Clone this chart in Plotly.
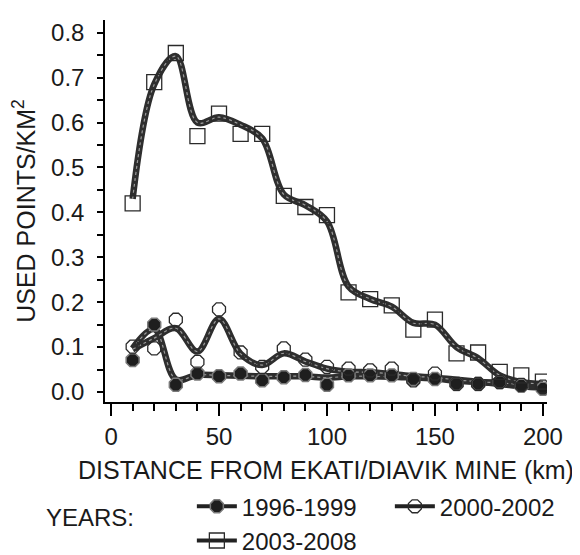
import plotly.graph_objects as go

distance_km = [10, 20, 30, 40, 50, 60, 70, 80, 90, 100,
               110, 120, 130, 140, 150, 160, 170, 180, 190, 200]

# observed points (markers)
pts_1996_1999 = [0.071, 0.150, 0.016, 0.041, 0.035, 0.041, 0.026, 0.033, 0.038, 0.016,
                 0.037, 0.037, 0.037, 0.029, 0.029, 0.018, 0.018, 0.022, 0.014, 0.007]
pts_2000_2002 = [0.101, 0.097, 0.161, 0.067, 0.184, 0.088, 0.056, 0.097, 0.072, 0.056,
                 0.052, 0.048, 0.052, 0.026, 0.041, 0.018, 0.018, 0.022, 0.016, 0.012]
pts_2003_2008 = [0.420, 0.690, 0.755, 0.570, 0.620, 0.575, 0.575, 0.437, 0.412, 0.394,
                 0.222, 0.207, 0.193, 0.139, 0.161, 0.086, 0.088, 0.045, 0.037, 0.023]

# smoothed curves (lines)
fit_1996_1999 = [0.097, 0.140, 0.028, 0.038, 0.037, 0.036, 0.035, 0.035, 0.035, 0.032,
                 0.035, 0.035, 0.034, 0.032, 0.030, 0.025, 0.022, 0.018, 0.013, 0.010]
fit_2000_2002 = [0.095, 0.120, 0.142, 0.090, 0.163, 0.085, 0.060, 0.086, 0.068, 0.052,
                 0.045, 0.044, 0.040, 0.035, 0.032, 0.027, 0.023, 0.020, 0.017, 0.013]
fit_2003_2008 = [0.430, 0.685, 0.748, 0.600, 0.612, 0.595, 0.565, 0.440, 0.416, 0.380,
                 0.235, 0.207, 0.190, 0.154, 0.150, 0.100, 0.075, 0.037, 0.022, 0.018]

series = [
    ("1996-1999", pts_1996_1999, fit_1996_1999,
     dict(symbol="octagon", size=14, color="#1e1e1e", line=dict(color="#7a7a7a", width=1.5))),
    ("2000-2002", pts_2000_2002, fit_2000_2002,
     dict(symbol="octagon", size=14, color="rgba(255,255,255,0)", line=dict(color="#2a2a2a", width=1.3))),
    ("2003-2008", pts_2003_2008, fit_2003_2008,
     dict(symbol="square", size=15, color="rgba(255,255,255,0)", line=dict(color="#2a2a2a", width=1.3))),
]

FONT = "Liberation Sans, Arial, Helvetica, sans-serif"
FS = 24
TFS = 25
fig = go.Figure()

# lines
for name, pts, fit, mk in series:
    fig.add_trace(go.Scatter(x=distance_km, y=fit, mode="lines", showlegend=False,
                             line=dict(color="#2e2e2e", width=6.5, shape="spline", smoothing=1.0),
                             hoverinfo="skip"))
    fig.add_trace(go.Scatter(x=distance_km, y=fit, mode="lines", showlegend=False,
                             line=dict(color="#9a9a9a", width=1.2, dash="dot", shape="spline", smoothing=1.0),
                             hoverinfo="skip"))
# markers
for name, pts, fit, mk in series:
    fig.add_trace(go.Scatter(x=distance_km, y=pts, mode="markers", showlegend=False,
                             marker=mk, name=name))
# legend entries
for name, pts, fit, mk in series:
    fig.add_trace(go.Scatter(x=[None], y=[None], mode="lines+markers", name=name,
                             marker=mk, line=dict(color="#222222", width=4)))

fig.update_layout(
    width=580, height=555,
    margin=dict(l=97, r=41, t=12, b=161),
    paper_bgcolor="white", plot_bgcolor="white",
    font=dict(family=FONT, size=FS, color="#1a1a1a"),
    showlegend=True,
    legend=dict(orientation="h", xref="container", yref="container",
                x=0.317, xanchor="left", y=0.142, yanchor="top",
                font=dict(size=FS), itemwidth=40, tracegroupgap=0,
                entrywidth=143, entrywidthmode="pixels",
                bgcolor="rgba(0,0,0,0)"),
    annotations=[dict(text="YEARS:", x=-0.138, xref="paper", xanchor="left",
                      y=-0.302, yref="paper", yanchor="middle", showarrow=False,
                      font=dict(size=FS))],
)
fig.update_xaxes(range=[-2.8, 201.9], tickvals=[0, 50, 100, 150, 200],
                 ticks="outside", ticklen=12, tickwidth=1.5, tickcolor="black",
                 ticklabelstandoff=0, automargin=False, tickfont=dict(size=FS),
                 minor=dict(dtick=10, ticks="outside", ticklen=7, tickwidth=1.5, tickcolor="black"),
                 showline=True, linecolor="black", linewidth=1.5,
                 showgrid=False, zeroline=False,
                 title=dict(text="DISTANCE FROM EKATI/DIAVIK MINE (km)", standoff=14,
                            font=dict(size=TFS)))
fig.update_yaxes(range=[-0.0223, 0.8285], tickvals=[0, 0.1, 0.2, 0.3, 0.4, 0.5, 0.6, 0.7, 0.8],
                 tickformat=".1f", automargin=False, tickfont=dict(size=FS),
                 ticks="outside", ticklen=6, tickwidth=1.5, tickcolor="black",
                 ticklabelstandoff=8,
                 minor=dict(dtick=0.05, ticks="outside", ticklen=6, tickwidth=1.5, tickcolor="black"),
                 showline=True, linecolor="black", linewidth=1.5,
                 showgrid=False, zeroline=False,
                 title=dict(text="USED POINTS/KM<sup>2</sup>", standoff=11, font=dict(size=TFS)))

fig.write_html("out.html")
